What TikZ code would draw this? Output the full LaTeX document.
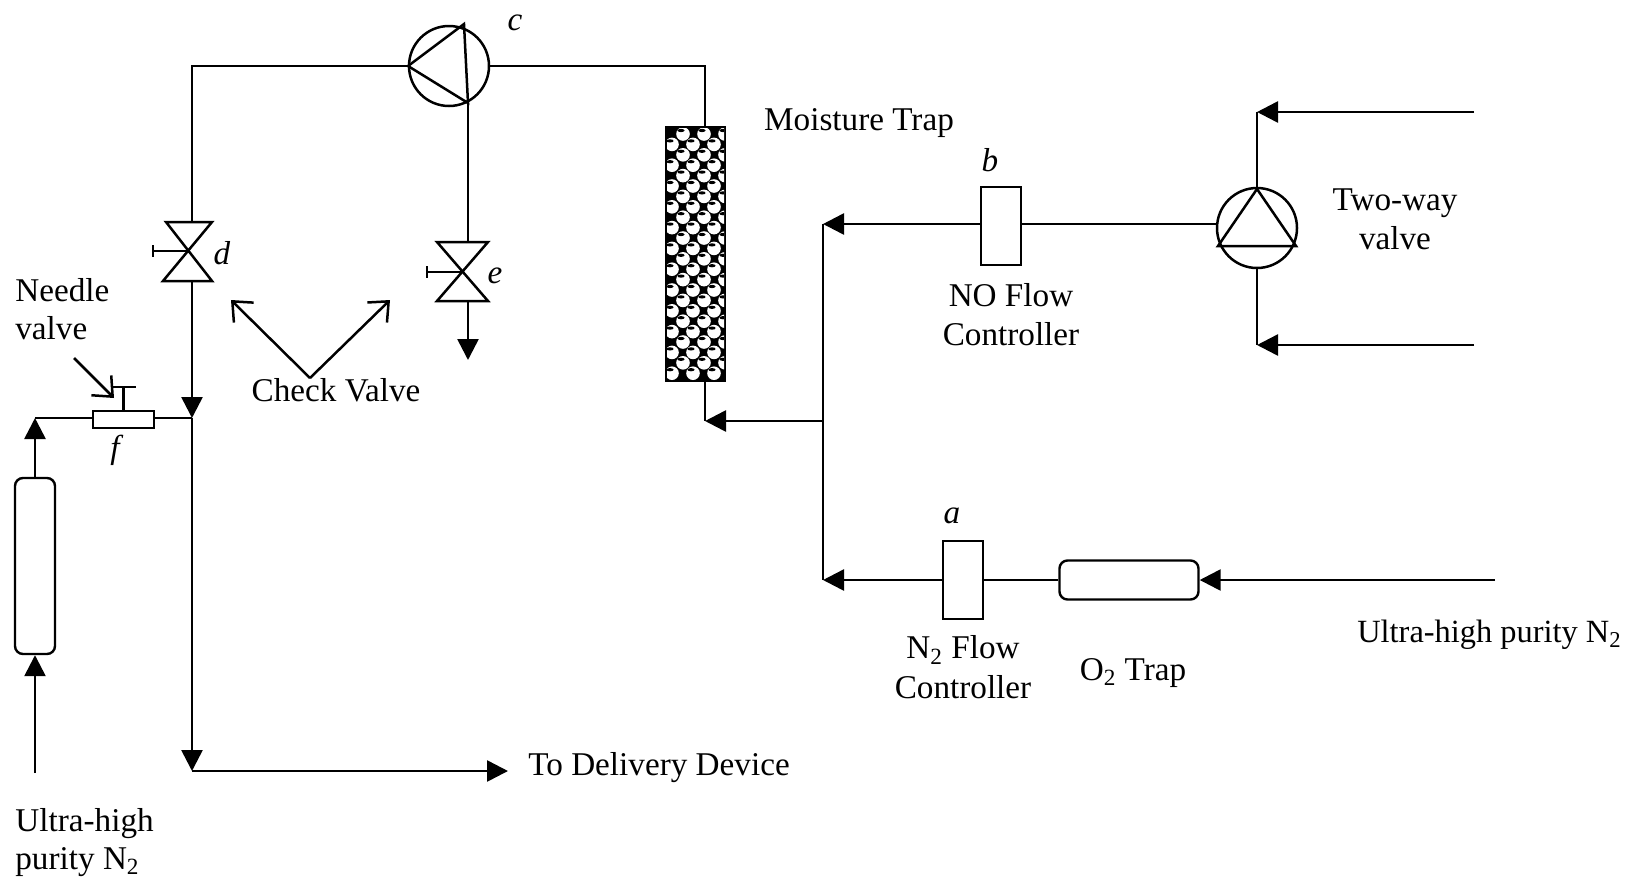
\documentclass[tikz,border=0pt]{standalone}
\usepackage{fontspec}
\setmainfont{Liberation Serif}
\usetikzlibrary{arrows.meta,calc}
\tikzset{
  pipe/.style={line width=1.3pt,line join=miter},
  flow/.style={pipe,-{Triangle[length=10.5pt,width=10.5pt]}},
  callout/.style={line width=1.25pt,-{Straight Barb[length=8pt,width=14pt,line width=1.25pt]}},
  lbl/.style={font=\fontsize{16.6}{18}\selectfont,inner sep=0pt,text=black},
  box/.style={draw,line width=1.2pt,inner sep=0pt,fill=white},
  rbox/.style={box,rounded corners=4pt},
  wheel/.style={draw,circle,line width=1.25pt,inner sep=0pt,minimum size=40pt},
  valvebody/.style={line width=1.25pt,line join=miter},
}
\begin{document}
\begin{tikzpicture}[x=0.5pt,y=-0.5pt]
\useasboundingbox[fill=white] (0,0) rectangle (1627,879);

% junctions
\coordinate (jtop) at (192,66);
\coordinate (jneedle) at (192,418);
\coordinate (jdel) at (192,771);
\coordinate (deliv) at (508,771);
\coordinate (jtrapin) at (705,66);
\coordinate (jtrapout) at (705,421);
\coordinate (jmain) at (823,421);
\coordinate (jno) at (823,224);
\coordinate (jn2) at (823,580);
\coordinate (jup) at (1257,112);
\coordinate (jdn) at (1257,345);
\coordinate (inup) at (1474,112);
\coordinate (indn) at (1474,345);
\coordinate (inn2) at (1495,580);
\coordinate (src) at (35,773);
\coordinate (jleft) at (35,418);
\coordinate (ventend) at (468,360);
\coordinate (chk) at (310,378);
\coordinate (chkl) at (231,300);
\coordinate (chkr) at (390,300);
\coordinate (ndl0) at (74,358);
\coordinate (ndl1) at (114,398);

% components
\node[wheel] (pumpc) at (449,66) {};
\node[wheel] (pumpt) at (1257,228) {};
\node[box,minimum width=20pt,minimum height=39pt] (ctrlb) at (1001,226) {};
\node[box,minimum width=20pt,minimum height=39pt] (ctrla) at (963,580) {};
\node[rbox,minimum width=69.5pt,minimum height=19.5pt] (otrap) at (1129,580) {};
\node[rbox,minimum width=20pt,minimum height=88pt] (column) at (35,566) {};
\node[box,minimum width=30.5pt,minimum height=8.5pt] (needle) at (123.5,419.5) {};
\node[draw=none,minimum width=30.5pt,minimum height=128pt,inner sep=0pt] (trap) at (695.5,254) {};
\coordinate (vdc) at (188,251);
\coordinate (vec) at (463,272);

% moisture trap packing
\fill (665,126) rectangle (726,382);
\begin{scope}
\clip (667,128) rectangle (724,380);
\foreach \k in {0,...,23}{
  \pgfmathsetmacro{\yy}{134+10.4*\k}
  \pgfmathtruncatemacro{\odd}{mod(\k,2)}
  \ifnum\odd=0
    \foreach \xx in {683,704,725}{
      \fill[white] (\xx,\yy) circle (3.4pt);
      \fill[black] (\xx-2,\yy-3.5) ellipse (1.8pt and .8pt);
    }
  \else
    \foreach \xx in {672,693,714}{
      \fill[white] (\xx,\yy) circle (3.4pt);
      \fill[black] (\xx-2,\yy-3.5) ellipse (1.8pt and .8pt);
    }
  \fi
}
\end{scope}

% pump triangles
\draw[valvebody] (408,66) -- (464,24) -- (468,103) -- cycle;
\draw[valvebody] (1257,189) -- (1296,246) -- (1218,246) -- cycle;

% manual valves
\draw[valvebody] (166,222) -- (212,222) -- (163,281) -- (212,281) -- cycle;
\draw[valvebody] (vdc) -- (153,251) (153,245) -- (153,257);
\draw[valvebody] (437,242) -- (488,242) -- (437,301) -- (488,301) -- cycle;
\draw[valvebody] (vec) -- (427,272) (427,266) -- (427,278);
\coordinate (vdtop) at (192,222);
\coordinate (vdbot) at (192,281);
\coordinate (vetop) at (468,242);
\coordinate (vebot) at (468,301);
\coordinate (pumpcb) at (468,103);

% needle handle
\draw[valvebody] (needle.north) -- ++(0,-23) coordinate (nh);
\draw[valvebody] ($(nh)+(-11,0)$) -- ($(nh)+(12,0)$);

% pipes
\draw[pipe] (pumpc.west) -- (jtop) -- (vdtop);
\draw[flow] (vdbot) -- (jneedle);
\draw[flow] (jneedle) -- (jdel);
\draw[flow] (jdel) -- (deliv);
\draw[pipe] (pumpc.east) -- (jtrapin) -- (705,126);
\draw[pipe] (pumpcb) -- (vetop);
\draw[flow] (vebot) -- (ventend);
\draw[pipe] (705,382) -- (jtrapout);
\draw[flow] (jmain) -- (jtrapout);
\draw[pipe] (jno) -- (jn2);
\draw[flow] (ctrlb.west |- jno) -- (jno);
\draw[pipe] (ctrlb.east |- jno) -- (pumpt.west |- jno);
\draw[flow] (ctrla.west) -- (jn2);
\draw[pipe] (ctrla.east) -- (otrap.west);
\draw[flow] (inn2) -- (otrap.east);
\draw[pipe] (pumpt.north) -- (jup);
\draw[pipe] (pumpt.south) -- (jdn);
\draw[flow] (inup) -- (jup);
\draw[flow] (indn) -- (jdn);
\draw[flow] (src) -- (column.south);
\draw[flow] (column.north) -- (jleft);
\draw[pipe] (jleft) -- (jleft -| needle.west);
\draw[pipe] (jleft -| needle.east) -- (jneedle);

% callouts
\draw[callout] (chk) -- (chkl);
\draw[callout] (chk) -- (chkr);
\draw[callout] (ndl0) -- (ndl1);

% labels
\node[lbl] (lc) at (515,23) {\textit{c}};
\node[lbl] (lmt) at (859,123) {Moisture Trap};
\node[lbl] (lb) at (990,160) {\textit{b}};
\node[lbl] (lnf) at (1011,295) {NO Flow};
\node[lbl] (lnc) at (1011,334) {Controller};
\node[lbl] (ltw) at (1395,203) {Two-way};
\node[lbl] (ltv) at (1395,238) {valve};
\node[lbl] (la) at (952,516) {\textit{a}};
\node[lbl] (lnn) at (963,650) {N\textsubscript{2} Flow};
\node[lbl] (lcc) at (963,687) {Controller};
\node[lbl] (lot) at (1133,673) {O\textsubscript{2} Trap};
\node[lbl,anchor=east,font=\fontsize{16.2}{18}\selectfont] (luh) at (1622,635) {Ultra-high purity N\textsubscript{2}};
\node[lbl,anchor=west] (ltd) at (528,768) {To Delivery Device};
\node[lbl] (lcv) at (336,390) {Check Valve};
\node[lbl] (ld) at (222,253) {\textit{d}};
\node[lbl] (le) at (495,276) {\textit{e}};
\node[lbl] (lf) at (117,450) {\textit{f}};
\node[lbl,anchor=west] (lnd) at (15,290) {Needle};
\node[lbl,anchor=west] (lnv) at (15,328) {valve};
\node[lbl,anchor=west] (lu1) at (15,824) {Ultra-high};
\node[lbl,anchor=west] (lu2) at (15,862) {purity N\textsubscript{2}};
\end{tikzpicture}
\end{document}
